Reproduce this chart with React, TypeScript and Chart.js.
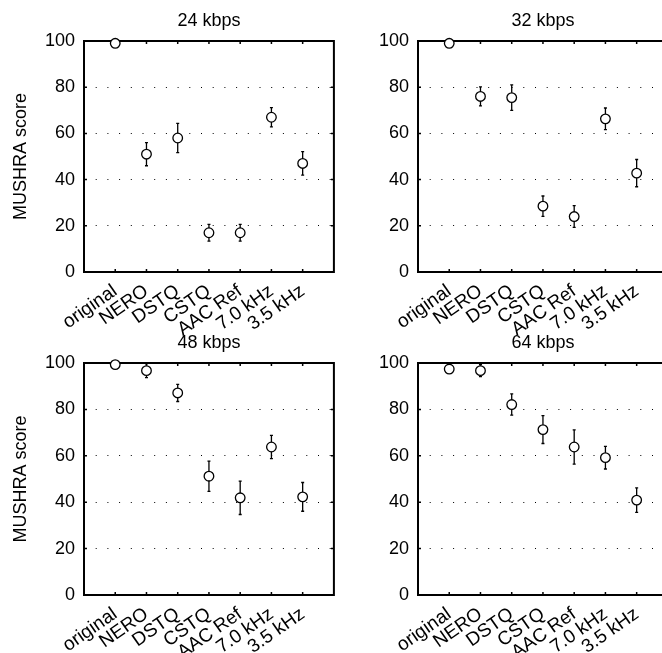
import React, { useEffect, useRef } from 'react';
import { Chart, registerables } from 'chart.js';
Chart.register(...registerables);

const categories = ['original', 'NERO', 'DSTQ', 'CSTQ', 'AAC Ref', '7.0 kHz', '3.5 kHz'];
const titles = ['24 kbps', '32 kbps', '48 kbps', '64 kbps'];
const yTicks = [0, 20, 40, 60, 80, 100];

const mean24 = [99, 51, 58, 17, 17, 67, 47];
const err24 = [0.8, 5, 6.3, 3.6, 3.6, 4.2, 5.1];
const mean32 = [99, 76, 75.5, 28.5, 24, 66.3, 42.8];
const err32 = [0.8, 4.1, 5.5, 4.4, 4.7, 4.7, 5.9];
const mean48 = [99.3, 96.7, 87.1, 51.2, 41.9, 63.8, 42.3];
const err48 = [0.5, 3, 3.7, 6.5, 7.2, 5, 6.2];
const mean64 = [97.4, 96.7, 82.1, 71.3, 63.8, 59.2, 40.9];
const err64 = [0.8, 2.6, 4.6, 6, 7.4, 4.9, 5.3];

const FAMILY = '"Liberation Sans", Arial, Helvetica, sans-serif';
const xLabels = ['', ...categories, ''];

type PanelProps = {
  title: string;
  means: number[];
  errs: number[];
  showYTitle: boolean;
  left: number;
  top: number;
  width: number;
  height: number;
  xAxisHeight: number;
};

function Panel({ title, means, errs, showYTitle, left, top, width, height, xAxisHeight }: PanelProps) {
  const ref = useRef<HTMLCanvasElement>(null);
  useEffect(() => {
    if (!ref.current) return;
    const framePlugin = {
      id: 'frameAndErrors',
      beforeDatasetsDraw(chart: any) {
        const ctx = chart.ctx;
        const a = chart.chartArea;
        const xs = chart.scales.x;
        const ys = chart.scales.y;
        ctx.save();
        ctx.strokeStyle = '#000';
        // inward tick marks
        ctx.lineWidth = 1.5;
        ctx.beginPath();
        for (let i = 1; i <= categories.length; i++) {
          const x = xs.getPixelForValue(i);
          ctx.moveTo(x, a.bottom);
          ctx.lineTo(x, a.bottom - 3);
          ctx.moveTo(x, a.top);
          ctx.lineTo(x, a.top + 3);
        }
        yTicks.slice(1, -1).forEach((v) => {
          const y = ys.getPixelForValue(v);
          ctx.moveTo(a.left, y);
          ctx.lineTo(a.left + 3, y);
          ctx.moveTo(a.right, y);
          ctx.lineTo(a.right - 3, y);
        });
        ctx.stroke();
        // frame
        ctx.lineWidth = 2;
        ctx.strokeRect(a.left, a.top, a.right - a.left, a.bottom - a.top);
        // error bars
        ctx.lineWidth = 1.3;
        means.forEach((m, i) => {
          const e = errs[i];
          const x = xs.getPixelForValue(i + 1);
          const yt = ys.getPixelForValue(m + e);
          const yb = ys.getPixelForValue(m - e);
          ctx.beginPath();
          ctx.moveTo(x, yt);
          ctx.lineTo(x, yb);
          ctx.moveTo(x - 1.5, yt);
          ctx.lineTo(x + 1.5, yt);
          ctx.moveTo(x - 1.5, yb);
          ctx.lineTo(x + 1.5, yb);
          ctx.stroke();
        });
        ctx.restore();
      },
    };
    const chart = new Chart(ref.current, {
      type: 'line',
      data: {
        labels: xLabels,
        datasets: [
          {
            data: [null, ...means, null],
            showLine: false,
            pointRadius: 4.8,
            pointHoverRadius: 4.8,
            pointBackgroundColor: '#fff',
            pointBorderColor: '#000',
            pointBorderWidth: 1.3,
            clip: false,
          } as any,
        ],
      },
      options: {
        animation: false,
        responsive: false,
        events: [],
        layout: { padding: { left: 0, right: 3, top: 0, bottom: 0 } },
        plugins: {
          legend: { display: false },
          tooltip: { enabled: false },
          title: {
            display: true,
            text: title,
            fullSize: false,
            color: '#000',
            font: { family: FAMILY, size: 18, weight: 'normal' },
            padding: { top: 10.2, bottom: 9.2 },
          },
        },
        scales: {
          x: {
            type: 'category',
            offset: false,
            grid: { display: false },
            border: { display: false },
            ticks: {
              autoSkip: false,
              minRotation: 35,
              maxRotation: 35,
              color: '#000',
              font: { family: FAMILY, size: 19 },
              padding: 0,
            },
            afterFit: (s: any) => {
              s.height = xAxisHeight;
              s.paddingLeft = 0;
              s.paddingRight = 0;
            },
          },
          y: {
            min: 0,
            max: 100,
            ticks: {
              stepSize: 20,
              color: '#000',
              font: { family: FAMILY, size: 18 },
              padding: 9,
            },
            grid: { color: '#000', lineWidth: 1, drawTicks: false },
            border: { display: false, dash: [1, 10.7] },
            title: {
              display: showYTitle,
              text: 'MUSHRA score',
              color: '#000',
              font: { family: FAMILY, size: 18 },
              padding: { top: 10, bottom: 0 },
            },
            afterFit: (s: any) => {
              s.width = 84;
              s.paddingTop = 0;
              s.paddingBottom = 0;
            },
          },
        },
      } as any,
      plugins: [framePlugin],
    });
    return () => chart.destroy();
  }, []);
  return (
    <canvas
      ref={ref}
      width={width}
      height={height}
      style={{ position: 'absolute', left, top, width, height }}
    />
  );
}

export default function App() {
  return (
    <div
      style={{
        position: 'absolute',
        left: 0,
        top: 0,
        width: 662,
        height: 653,
        overflow: 'hidden',
        background: '#fff',
      }}
    >
      <Panel title={titles[0]} means={mean24} errs={err24} showYTitle={true} left={0} top={0} width={340} height={336} xAxisHeight={64} />
      <Panel title={titles[1]} means={mean32} errs={err32} showYTitle={false} left={334} top={0} width={340} height={336} xAxisHeight={64} />
      <Panel title={titles[2]} means={mean48} errs={err48} showYTitle={true} left={0} top={322} width={340} height={331} xAxisHeight={58} />
      <Panel title={titles[3]} means={mean64} errs={err64} showYTitle={false} left={334} top={322} width={340} height={331} xAxisHeight={58} />
    </div>
  );
}
